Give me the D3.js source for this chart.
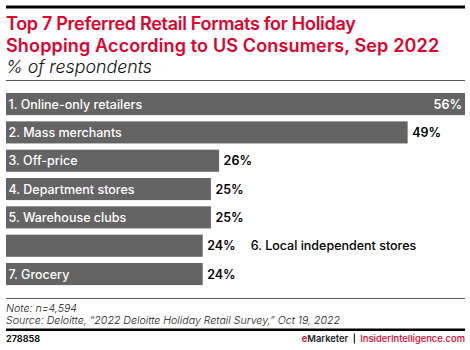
<!DOCTYPE html>
<html><head><meta charset="utf-8">
<script src="https://cdn.jsdelivr.net/npm/d3@7"></script>
<style>
html,body{margin:0;padding:0;background:#fff;}
svg{display:block;}
text{font-family:Inter,"Open Sans",sans-serif;}
</style></head>
<body>
<svg id="c" width="470" height="350"></svg>
<script>
const categories = ["1. Online-only retailers","2. Mass merchants","3. Off-price","4. Department stores","5. Warehouse clubs","6. Local independent stores","7. Grocery"];
const values = [56,49,26,25,25,24,24];
const titleLines = ["Top 7 Preferred Retail Formats for Holiday","Shopping According to US Consumers, Sep 2022"];
const subtitle = "% of respondents";
const noteLines = ["Note: n=4,594","Source: Deloitte, \u201c2022 Deloitte Holiday Retail Survey,\u201d Oct 19, 2022"];

const svg = d3.select("#c");
const L = 6, R = 465;
const red = "#e3002b";

// top thick rule
svg.append("rect").attr("x",L).attr("y",5.5).attr("width",R-L).attr("height",3).attr("fill","#000");
svg.selectAll(".title").data(titleLines).enter().append("text")
  .attr("x",L).attr("y",(d,i)=>30+i*21.5).attr("fill",red)
  .attr("font-size",18).attr("font-weight",600).attr("letter-spacing",(d,i)=>i===0?-0.3:0.15).text(d=>d);
svg.append("text").attr("x",L).attr("y",73).attr("font-size",17.8).attr("font-style","italic")
  .attr("font-weight",300).attr("fill","#111").text(subtitle);
svg.append("rect").attr("x",L).attr("y",80).attr("width",R-L).attr("height",1).attr("fill","#555");

const x = d3.scaleLinear().domain([0,56]).range([L,R]);
const y = d3.scaleBand().domain(categories).range([89.9,288.2]).paddingInner(0.22).paddingOuter(0.11);
const data = categories.map((c,i)=>({c,v:values[i],i}));

svg.selectAll(".bar").data(data).enter().append("rect")
  .attr("x",x(0)).attr("y",d=>y(d.c)).attr("width",d=>x(d.v)-x(0)).attr("height",y.bandwidth())
  .attr("fill","#646464");

// value labels
const inside = d => d.i===0;
svg.selectAll(".val").data(data).enter().append("text")
  .attr("x",d=>inside(d)? x(d.v)-3 : x(d.v)+4.5)
  .attr("y",d=>y(d.c)+y.bandwidth()/2).attr("dy","0.36em")
  .attr("text-anchor",d=>inside(d)?"end":"start")
  .attr("fill",d=>inside(d)?"#fff":"#000")
  .attr("font-size",12.5).attr("font-weight",600).text(d=>d.v+"%");

// category labels
const outsideLabel = d => d.i===5;
svg.selectAll(".cat").data(data).enter().append("text")
  .attr("x",d=>outsideLabel(d)? x(d.v)+48 : L+2.5)
  .attr("y",d=>y(d.c)+y.bandwidth()/2).attr("dy","0.36em")
  .attr("fill",d=>outsideLabel(d)?"#000":"#fff")
  .attr("font-size",12.5).attr("font-weight",500).text(d=>d.c);

// bottom
svg.append("rect").attr("x",L).attr("y",298).attr("width",R-L).attr("height",1).attr("fill","#555");
svg.selectAll(".note").data(noteLines).enter().append("text")
  .attr("x",L).attr("y",(d,i)=>311.5+i*12.5).attr("font-size",10.6).attr("font-style","italic")
  .attr("font-weight",300).attr("fill","#222").text(d=>d);
svg.append("rect").attr("x",L).attr("y",328.5).attr("width",R-L).attr("height",2.5).attr("fill","#000");
svg.append("text").attr("x",L).attr("y",342).attr("font-size",9).attr("font-weight",700).attr("fill","#111").text("278858");

// footer brand, laid out right-to-left
const footSize = 9.4;
const ins = svg.append("text").attr("x",R).attr("y",342).attr("text-anchor","end").attr("font-size",footSize).attr("font-weight",500)
  .attr("fill",red).text("InsiderIntelligence.com");
const insW = ins.node().getComputedTextLength();
const barX = R - insW - 6;
svg.append("rect").attr("x",barX-0.5).attr("y",333.5).attr("width",1).attr("height",10).attr("fill","#000");
const em = svg.append("text").attr("x",barX-6).attr("y",342).attr("text-anchor","end").attr("font-size",footSize).attr("font-weight",600);
em.append("tspan").attr("fill",red).text("e");
em.append("tspan").attr("fill","#222").text("Marketer");
</script>
</body></html>
